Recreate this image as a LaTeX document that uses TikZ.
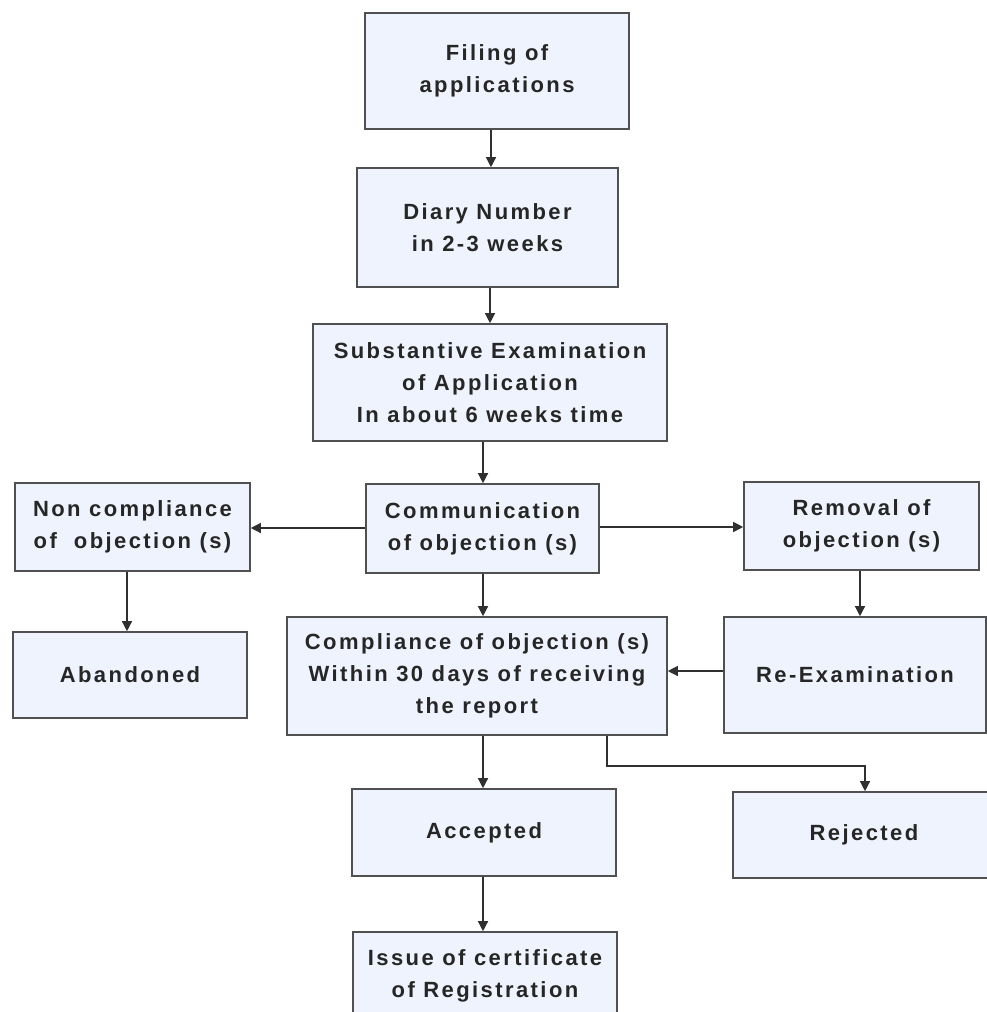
\documentclass[tikz,border=0pt]{standalone}
\usepackage{fontspec}
\setmainfont{Liberation Sans}[LetterSpace=11]
\usetikzlibrary{arrows.meta}
\definecolor{boxfill}{HTML}{EEF3FD}
\definecolor{boxdraw}{HTML}{505050}
\definecolor{linecol}{HTML}{303030}
\tikzset{
  stepbox/.style={draw=boxdraw, fill=boxfill, line width=1.6pt, inner sep=0pt,
    align=center, font=\fontsize{22}{32}\selectfont\bfseries, text=black!85},
  conn/.style={draw=linecol, line width=1.3pt, -{Triangle[length=10pt,width=10pt]}}
}
\begin{document}
\begin{tikzpicture}[x=1pt,y=-1pt]
\useasboundingbox (0,0) rectangle (987,1012);
\node[stepbox, minimum width=264pt, minimum height=116pt] (fil) at (497,71) {Filing of\\applications};
\node[stepbox, minimum width=261pt, minimum height=119pt] (diary) at (487.5,227.5) {Diary Number\\in 2-3 weeks};
\node[stepbox, minimum width=354pt, minimum height=117pt] (subst) at (490,382.5) {Substantive Examination\\of Application\\In about 6 weeks time};
\node[stepbox, minimum width=233pt, minimum height=89pt] (comm) at (482.5,528.5) {Communication\\of objection (s)};
\node[stepbox, minimum width=235pt, minimum height=88pt] (noncomp) at (132.5,527) {Non compliance\\of\ \ objection (s)};
\node[stepbox, minimum width=234pt, minimum height=86pt] (aband) at (130,675) {Abandoned};
\node[stepbox, minimum width=235pt, minimum height=88pt] (removal) at (861.5,526) {Removal of\\objection (s)};
\node[stepbox, minimum width=262pt, minimum height=116pt] (reexam) at (855,675) {Re-Examination};
\node[stepbox, minimum width=380pt, minimum height=118pt] (compl) at (477,676) {Compliance of objection (s)\\Within 30 days of receiving\\the report};
\node[stepbox, minimum width=262pt, minimum height=86pt] (rej) at (864,835) {Rejected};
\node[stepbox, minimum width=264pt, minimum height=87pt] (acc) at (484,832.5) {Accepted};
\node[stepbox, minimum width=264pt, minimum height=88pt] (issue) at (485,976) {Issue of certificate\\of Registration};

\draw[conn] (fil.south -| 491,0) -- (diary.north -| 491,0);
\draw[conn] (diary.south -| 490,0) -- (subst.north -| 490,0);
\draw[conn] (subst.south -| 483,0) -- (comm.north -| 483,0);
\draw[conn] (comm.west |- 0,528) -- (noncomp.east |- 0,528);
\draw[conn] (comm.east |- 0,527) -- (removal.west |- 0,527);
\draw[conn] (noncomp.south -| 127,0) -- (aband.north -| 127,0);
\draw[conn] (removal.south -| 860,0) -- (reexam.north -| 860,0);
\draw[conn] (reexam.west |- 0,671) -- (compl.east |- 0,671);
\draw[conn] (comm.south -| 483,0) -- (compl.north -| 483,0);
\draw[conn] (compl.south -| 483,0) -- (acc.north -| 483,0);
\draw[conn] (compl.south -| 607,0) |- (865,766) -- (rej.north -| 865,0);
\draw[conn] (acc.south -| 483,0) -- (issue.north -| 483,0);
\end{tikzpicture}
\end{document}
